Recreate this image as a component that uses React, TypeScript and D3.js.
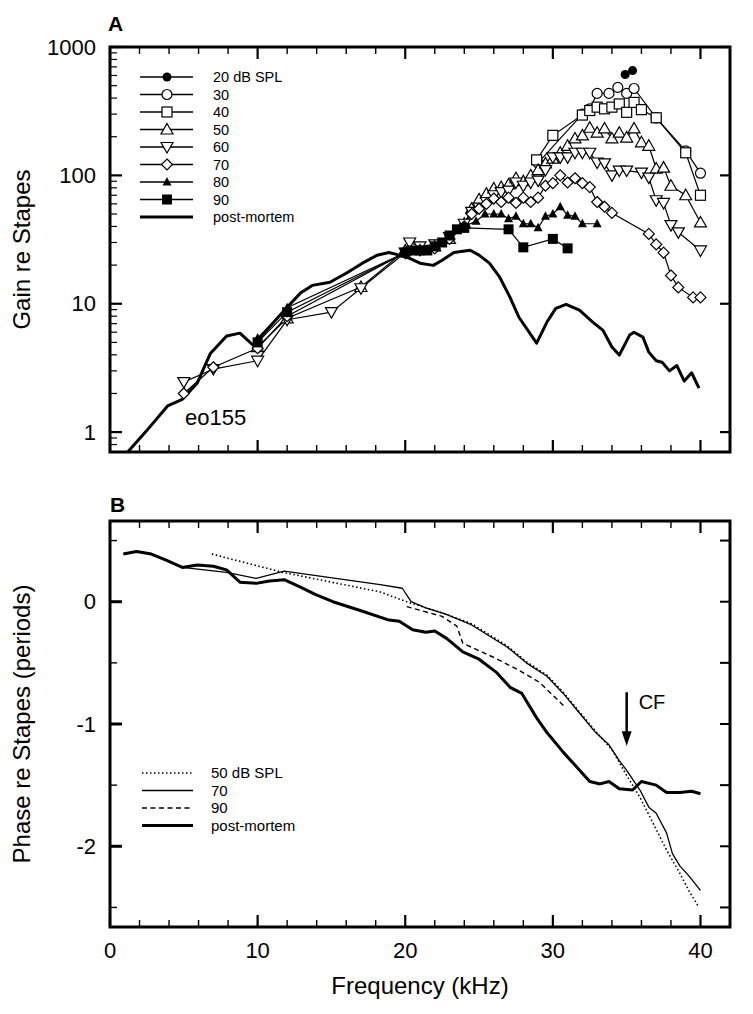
import React from "react";
import * as d3 from "d3";

// Panel A: gain re stapes, [frequency kHz, gain]
const gain20 = [[34.9, 611], [35.4, 655]];
const gain30 = [[29, 125], [32, 300], [32.5, 330], [33, 435], [33.8, 435], [34.4, 485], [35, 435], [35.5, 475], [37, 280], [39, 155], [40, 104]];
const gain40 = [[28.9, 132], [30, 205], [32, 295], [32.5, 320], [33, 340], [33.5, 330], [34, 340], [34.5, 360], [35, 310], [35.5, 370], [36, 325], [37, 281], [39, 150], [40, 70]];
const gain50 = [[10, 4.6], [12, 7.7], [17, 13.5], [20, 26], [21, 27], [22, 28], [23, 32], [24, 42], [24.5, 55], [25, 65], [25.5, 72], [26, 79], [26.5, 81], [27, 85], [27.5, 95], [28, 90], [28.5, 100], [29, 110], [29.5, 124], [30, 135], [30.5, 150], [31, 170], [31.5, 194], [32, 205], [32.5, 235], [33, 215], [33.5, 232], [34, 194], [34.5, 215], [35, 197], [35.5, 232], [36, 181], [36.5, 170], [37, 113], [37.5, 115], [38, 83], [39, 70], [40, 43]];
const gain60 = [[5, 2.45], [7, 3.1], [10, 3.6], [12, 7.5], [15, 8.6], [17, 13.2], [20, 25], [20.3, 30], [21, 28], [22, 29], [23, 33], [24, 42], [24.5, 52], [25, 56], [25.5, 62], [26, 70], [26.5, 74], [27, 76], [27.5, 88], [28, 83], [28.5, 88], [29, 91], [29.5, 110], [30, 138], [30.5, 138], [31, 138], [31.5, 150], [32, 150], [32.5, 150], [33, 126], [33.5, 124], [34, 100], [34.5, 109], [35, 109], [36, 105], [36.5, 96], [37, 64], [37.5, 61], [38, 41], [38.5, 36], [40, 26]];
const gain70 = [[5, 2.0], [7, 3.2], [10, 4.5], [12, 8.0], [20, 25], [21, 26], [22, 27], [23, 32], [24, 40], [24.5, 50], [25, 55], [25.5, 60], [26, 66], [26.5, 62], [27, 67], [27.5, 61], [28, 67], [28.5, 62], [29, 67], [29.5, 83], [30, 87], [30.5, 100], [31, 88], [31.5, 95], [32, 87], [32.5, 81], [33, 62], [33.5, 57], [34, 51], [36.5, 35], [37, 29], [37.5, 25], [38, 16.6], [38.5, 13.4], [39.5, 11.2], [40, 11.2]];
const gain80 = [[10, 5.4], [12, 9.3], [20, 25], [21, 27], [22, 29], [23, 34], [24, 40], [24.8, 44], [25.4, 50], [26, 50], [26.5, 50], [27, 46], [27.5, 48], [28, 42], [28.5, 42], [29, 39], [29.5, 48], [30, 50], [30.5, 57], [31, 49], [31.5, 48], [32, 42], [33, 42]];
const gain90 = [[10, 5.0], [12, 8.6], [20, 25], [20.5, 26], [21, 26], [21.5, 26], [22, 28], [22.5, 30], [23, 34], [23.5, 38], [24, 39], [27, 38], [28, 27.5], [30, 32], [31, 27]];
const gainPostMortem = [[1.2, 0.7], [2.4, 1.0], [3.9, 1.6], [4.9, 1.8], [5.9, 2.4], [6.8, 4.1], [7.9, 5.6], [8.8, 5.9], [9.7, 4.75], [10.8, 6.6], [12, 9.4], [12.9, 12.1], [13.7, 13.9], [14.9, 14.7], [16, 17.3], [17.1, 20.7], [18.1, 23.9], [18.9, 25.1], [19.6, 23.9], [20.3, 22.6], [21, 20.7], [21.9, 19.9], [22.5, 21.8], [23.3, 25.1], [24.4, 26.1], [25, 23.9], [25.7, 20.7], [26.4, 16.1], [27.1, 11.2], [27.7, 7.85], [28.9, 4.93], [29.6, 7.2], [30.2, 9.2], [30.9, 9.9], [31.8, 8.9], [32.7, 7.2], [33.4, 6.2], [34, 4.6], [34.5, 3.98], [35.2, 5.7], [35.5, 6.0], [36.1, 5.5], [36.5, 4.2], [37, 3.6], [37.4, 3.5], [37.9, 3.0], [38.4, 3.3], [38.9, 2.5], [39.4, 2.9], [39.9, 2.2]];

const gainLabels = ["20 dB SPL", "30", "40", "50", "60", "70", "80", "90", "post-mortem"];
const gainShapes = ["circleFilled", "circle", "square", "triangle", "triangleDown", "diamond", "triangleFilled", "squareFilled", "none"];

// Panel B: phase re stapes, [frequency kHz, periods]
const phase50 = [[6.9, 0.39], [11.7, 0.24], [18.3, 0.08], [20.1, 0.0], [22.7, -0.1], [24.5, -0.18], [25.7, -0.27], [26.9, -0.36], [28.2, -0.49], [29.6, -0.6], [30.7, -0.74], [31.8, -0.9], [32.9, -1.06], [34, -1.21], [35, -1.42], [35.9, -1.6], [36.7, -1.79], [37.7, -2.03], [38.6, -2.22], [39.2, -2.36], [39.9, -2.5]];
const phase70 = [[4.9, 0.28], [7.9, 0.24], [9.9, 0.19], [11.8, 0.25], [18.3, 0.14], [19.8, 0.11], [20.4, 0.0], [21.4, -0.05], [22.7, -0.1], [24.5, -0.19], [25.7, -0.28], [26.9, -0.37], [28.2, -0.5], [29.6, -0.61], [30.7, -0.75], [31.8, -0.91], [32.9, -1.07], [33.8, -1.17], [34.5, -1.3], [35, -1.38], [35.9, -1.54], [36.5, -1.68], [37, -1.73], [37.7, -1.89], [38.1, -2.06], [38.6, -2.16], [39.2, -2.24], [40, -2.36]];
const phase90 = [[20.1, -0.04], [22.5, -0.12], [23.5, -0.2], [23.9, -0.34], [25.9, -0.45], [27.7, -0.56], [29.1, -0.66], [30.9, -0.87]];
const phasePostMortem = [[0.9, 0.39], [1.8, 0.41], [2.8, 0.39], [3.8, 0.34], [4.9, 0.28], [5.9, 0.3], [7, 0.29], [7.9, 0.26], [8.8, 0.16], [9.9, 0.15], [10.8, 0.17], [11.8, 0.18], [12.9, 0.12], [13.9, 0.06], [15.1, 0.0], [16.9, -0.07], [18.9, -0.15], [19.6, -0.16], [20.5, -0.23], [21.4, -0.25], [22, -0.24], [22.8, -0.3], [23.9, -0.41], [25, -0.47], [26.2, -0.58], [27.1, -0.7], [27.9, -0.75], [28.9, -0.95], [29.6, -1.07], [30.7, -1.23], [31.6, -1.35], [32.5, -1.47], [33.2, -1.49], [33.8, -1.47], [34.5, -1.53], [35.4, -1.54], [36, -1.47], [37, -1.5], [37.7, -1.56], [38.6, -1.56], [39.4, -1.55], [40, -1.57]];

const phaseLabels = ["50 dB SPL", "70", "90", "post-mortem"];
const phaseDash = ["1.5 2.5", "none", "5 3.5", "none"];
const phaseWidth = [1.6, 1.3, 1.4, 3];

const cfFreq = 35;

const font = "'Liberation Sans', Arial, Helvetica, sans-serif";

const x = d3.scaleLinear().domain([0, 42]).range([110, 730]);
const yA = d3.scaleLog().domain([0.7, 1000]).range([452, 47]);
const yB = d3.scaleLinear().domain([-2.66, 0.66]).range([927, 521]);

function Marker({ shape, cx, cy }) {
  const sw = 1.2;
  if (shape === "circleFilled") return <circle cx={cx} cy={cy} r={4.5} fill="#000" />;
  if (shape === "circle") return <circle cx={cx} cy={cy} r={5} fill="#fff" stroke="#000" strokeWidth={sw} />;
  if (shape === "square") return <rect x={cx - 5} y={cy - 5} width={10} height={10} fill="#fff" stroke="#000" strokeWidth={sw} />;
  if (shape === "squareFilled") return <rect x={cx - 5} y={cy - 5} width={10} height={10} fill="#000" />;
  if (shape === "triangle")
    return <path d={`M${cx},${cy - 6}L${cx + 6},${cy + 4.5}L${cx - 6},${cy + 4.5}Z`} fill="#fff" stroke="#000" strokeWidth={sw} />;
  if (shape === "triangleDown")
    return <path d={`M${cx},${cy + 6}L${cx + 6},${cy - 4.5}L${cx - 6},${cy - 4.5}Z`} fill="#fff" stroke="#000" strokeWidth={sw} />;
  if (shape === "triangleFilled")
    return <path d={`M${cx},${cy - 5}L${cx + 4.5},${cy + 3.5}L${cx - 4.5},${cy + 3.5}Z`} fill="#000" />;
  if (shape === "diamond")
    return <path d={`M${cx},${cy - 5.5}L${cx + 5.5},${cy}L${cx},${cy + 5.5}L${cx - 5.5},${cy}Z`} fill="#fff" stroke="#000" strokeWidth={sw} />;
  return null;
}

function FreqTicks({ top, bottom }) {
  const ticks = d3.range(0, 41, 2);
  return (
    <g stroke="#000">
      {ticks.map((t) => {
        const major = t % 10 === 0;
        const len = major ? 12 : 7;
        return (
          <g key={t} strokeWidth={major ? 2.2 : 1.4}>
            <line x1={x(t)} x2={x(t)} y1={bottom} y2={bottom - len} />
            <line x1={x(t)} x2={x(t)} y1={top} y2={top + len} />
          </g>
        );
      })}
    </g>
  );
}

export default function App() {
  const gainSeries = [gain20, gain30, gain40, gain50, gain60, gain70, gain80, gain90];
  const lineA = d3.line().x((d) => x(d[0])).y((d) => yA(d[1]));
  const lineB = d3.line().x((d) => x(d[0])).y((d) => yB(d[1]));
  const phaseSeries = [phase50, phase70, phase90, phasePostMortem];

  const decades = [1, 10, 100, 1000];
  const minorA = [];
  [0.1, 1, 10, 100].forEach((d) => d3.range(2, 10).forEach((m) => {
    const v = d * m;
    if (v >= 0.7 && v < 1000) minorA.push(v);
  }));

  const [x0, x1] = x.range();
  const [a0, a1] = yA.range();
  const [b0, b1] = yB.range();

  return (
    <svg width={753} height={1014} style={{ position: "absolute", left: 0, top: 0, background: "#fff" }} fontFamily={font}>
      <rect width={753} height={1014} fill="#fff" />
      <defs>
        <clipPath id="clipA">
          <rect x={x0} y={a1} width={x1 - x0} height={a0 - a1} />
        </clipPath>
      </defs>

      {/* ---------- Panel A ---------- */}
      <text x={108} y={31} fontSize={21} fontWeight="bold">A</text>

      <g clipPath="url(#clipA)">
        <path d={lineA(gainPostMortem)} fill="none" stroke="#000" strokeWidth={3} strokeLinejoin="round" />
        {gainSeries.slice().reverse().map((s, i) => (
          <path key={i} d={lineA(s)} fill="none" stroke="#000" strokeWidth={1.2} />
        ))}
        {gainSeries.map((s, i) => s.map((d, j) => (
          <Marker key={i + "-" + j} shape={gainShapes[i]} cx={x(d[0])} cy={yA(d[1])} />
        )))}
      </g>

      {/* legend A */}
      {gainLabels.map((lab, i) => {
        const yy = 77 + i * 17.5;
        return (
          <g key={lab}>
            <line x1={140} x2={193} y1={yy} y2={yy} stroke="#000" strokeWidth={i === 8 ? 3 : 1.3} />
            <Marker shape={gainShapes[i]} cx={167} cy={yy} />
            <text x={213} y={yy + 5} fontSize={14.5}>{lab}</text>
          </g>
        );
      })}

      <text x={185} y={425} fontSize={22}>eo155</text>

      {/* axes A */}
      <g stroke="#000">
        {decades.map((d) => (
          <g key={d} strokeWidth={2.2}>
            <line x1={x0} x2={x0 + 12} y1={yA(d)} y2={yA(d)} />
            <line x1={x1} x2={x1 - 10} y1={yA(d)} y2={yA(d)} />
          </g>
        ))}
        {minorA.map((v) => (
          <line key={v} x1={x0} x2={x0 + 7} y1={yA(v)} y2={yA(v)} strokeWidth={1.2} />
        ))}
      </g>
      <FreqTicks top={a1} bottom={a0} />
      <rect x={x0} y={a1} width={x1 - x0} height={a0 - a1} fill="none" stroke="#000" strokeWidth={3} />
      {decades.map((d) => (
        <text key={d} x={96} y={yA(d)} dy="0.35em" fontSize={22} textAnchor="end">{d}</text>
      ))}
      <text transform={`translate(30,${(a0 + a1) / 2}) rotate(-90)`} textAnchor="middle" fontSize={24}>Gain re Stapes</text>

      {/* ---------- Panel B ---------- */}
      <text x={110} y={512} fontSize={21} fontWeight="bold">B</text>

      {phaseSeries.map((s, i) => (
        <path key={i} d={lineB(s)} fill="none" stroke="#000" strokeWidth={phaseWidth[i]}
          strokeDasharray={phaseDash[i]} strokeLinejoin="round" />
      ))}

      {/* CF arrow */}
      <line x1={x(cfFreq)} x2={x(cfFreq)} y1={yB(-0.74)} y2={yB(-1.08)} stroke="#000" strokeWidth={2.5} />
      <path d={`M${x(cfFreq) - 5},${yB(-1.06)}L${x(cfFreq) + 5},${yB(-1.06)}L${x(cfFreq)},${yB(-1.18)}Z`} fill="#000" />
      <text x={x(cfFreq) + 12} y={yB(-0.82)} dy="0.35em" fontSize={20}>CF</text>

      {/* legend B */}
      {phaseLabels.map((lab, i) => {
        const yy = 773 + i * 17.5;
        return (
          <g key={lab}>
            <line x1={142} x2={193} y1={yy} y2={yy} stroke="#000" strokeWidth={phaseWidth[i]} strokeDasharray={phaseDash[i]} />
            <text x={211} y={yy + 5} fontSize={15}>{lab}</text>
          </g>
        );
      })}

      {/* axes B */}
      <g stroke="#000">
        {d3.range(-2.5, 0.51, 0.5).map((p) => {
          const major = Math.abs(p % 1) < 1e-6;
          return (
            <g key={p}>
              <line x1={x0} x2={x0 + (major ? 12 : 7)} y1={yB(p)} y2={yB(p)} strokeWidth={major ? 3 : 1.4} />
              <line x1={x1} x2={x1 - 10} y1={yB(p)} y2={yB(p)} strokeWidth={2} />
            </g>
          );
        })}
      </g>
      <FreqTicks top={b1} bottom={b0} />
      <rect x={x0} y={b1} width={x1 - x0} height={b0 - b1} fill="none" stroke="#000" strokeWidth={3} />
      {[0, -1, -2].map((p) => (
        <text key={p} x={96} y={yB(p)} dy="0.35em" fontSize={22} textAnchor="end">{p}</text>
      ))}
      <text transform={`translate(30,${(b0 + b1) / 2}) rotate(-90)`} textAnchor="middle" fontSize={24}>Phase re Stapes (periods)</text>

      {/* frequency axis labels */}
      {[0, 10, 20, 30, 40].map((t) => (
        <text key={t} x={x(t)} y={958} fontSize={22} textAnchor="middle">{t}</text>
      ))}
      <text x={x(21)} y={994} fontSize={24} textAnchor="middle">Frequency (kHz)</text>
    </svg>
  );
}
